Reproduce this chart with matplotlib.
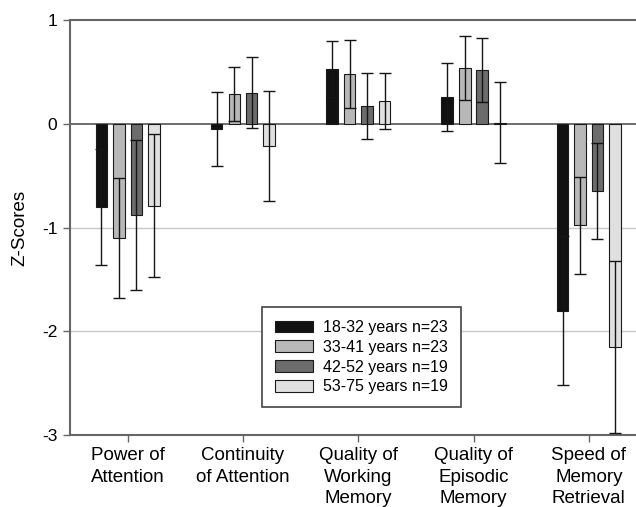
import numpy as np
import matplotlib
matplotlib.use("Agg")
import matplotlib.pyplot as plt
from matplotlib import font_manager

# domains and age groups
domains = ["Power of\nAttention", "Continuity\nof Attention", "Quality of\nWorking\nMemory",
           "Quality of\nEpisodic\nMemory", "Speed of\nMemory\nRetrieval"]
groups = ["18-32 years n=23", "33-41 years n=23", "42-52 years n=19", "53-75 years n=19"]

# mean z-scores per group (one value per domain)
mean_18_32 = [-0.80, -0.05, 0.53, 0.26, -1.80]
mean_33_41 = [-1.10, 0.29, 0.48, 0.54, -0.98]
mean_42_52 = [-0.88, 0.30, 0.17, 0.52, -0.65]
mean_53_75 = [-0.79, -0.21, 0.22, 0.01, -2.15]

# error bar half-lengths
err_18_32 = [0.56, 0.36, 0.27, 0.33, 0.72]
err_33_41 = [0.58, 0.26, 0.33, 0.31, 0.47]
err_42_52 = [0.72, 0.34, 0.32, 0.31, 0.46]
err_53_75 = [0.69, 0.53, 0.27, 0.39, 0.83]

colors = ["#111111", "#b8b8b8", "#6c6c6c", "#e0e0e0"]

names = {f.name for f in font_manager.fontManager.ttflist}
if "Liberation Sans Narrow" in names:
    leg_font = "Liberation Sans Narrow"
    leg_size = 13
else:
    leg_font = "Liberation Sans"
    leg_size = 11.5
plt.rcParams["font.family"] = ["Liberation Sans", "DejaVu Sans"]

fig = plt.figure(figsize=(6.36, 5.07), dpi=100)
ax = fig.add_axes([70 / 636, 72 / 507, 576.5 / 636, 415 / 507])

x = np.arange(len(domains))
means = [mean_18_32, mean_33_41, mean_42_52, mean_53_75]
errs = [err_18_32, err_33_41, err_42_52, err_53_75]
offsets = [-0.228, -0.075, 0.075, 0.228]
width = 0.1

for m, e, off, col, lab in zip(means, errs, offsets, colors, groups):
    ax.bar(x + off, m, width, color=col, edgecolor="#1a1a1a", linewidth=0.8,
           label=lab, zorder=2)
    ax.errorbar(x + off, m, yerr=e, fmt="none", ecolor="#151515", elinewidth=1.0,
                capsize=4.5, capthick=1.0, zorder=3)

for yv in [-1, -2]:
    ax.axhline(yv, color="#c8c8c8", linewidth=1.0, zorder=0)
ax.axhline(0, color="#555555", linewidth=1.2, zorder=1)

ax.set_xlim(-0.5, 4.5)
ax.set_ylim(-3, 1)
ax.set_yticks([1, 0, -1, -2, -3])
ax.set_yticklabels(["1", "0", "-1", "-2", "-3"], fontsize=12.5)
ax.set_xticks(x)
ax.set_xticklabels(domains, fontsize=13.5, linespacing=1.32)
ax.tick_params(axis="y", length=5, width=1, color="#666666", pad=4)
ax.tick_params(axis="x", length=5, width=1, color="#666666", pad=4)

for s in ["left", "bottom", "top", "right"]:
    ax.spines[s].set_color("#666666")
    ax.spines[s].set_linewidth(1.5)

ax.set_ylabel("Z-Scores", fontsize=13.5, labelpad=10)

leg = ax.legend(loc="upper left", bbox_to_anchor=(0.3336, 0.3077), fancybox=False,
                edgecolor="#444444", framealpha=1, prop={"family": leg_font, "size": leg_size},
                handlelength=2.4, handleheight=0.75, labelspacing=0.3,
                handletextpad=0.6, borderpad=0.8, borderaxespad=0)
leg.get_frame().set_linewidth(1.2)

fig.savefig("out.png", dpi=100)
